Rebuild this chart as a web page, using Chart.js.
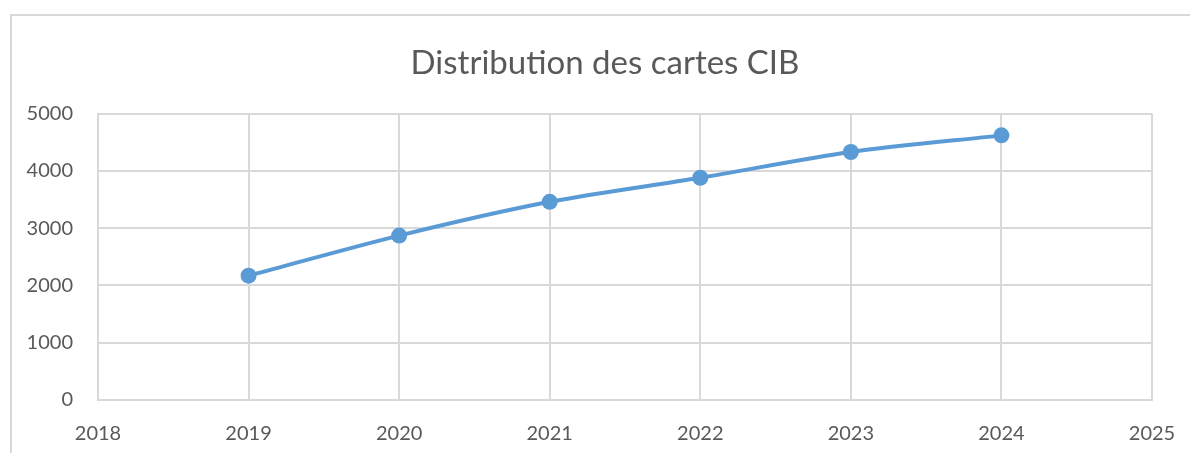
<!DOCTYPE html>
<html>
<head>
<meta charset="utf-8">
<script src="https://cdn.jsdelivr.net/npm/chart.js@4/dist/chart.umd.min.js"></script>
<style>
  html, body { margin: 0; padding: 0; background: #fff; overflow: hidden; }
  #cadre { position: absolute; left: 10px; top: 14px; width: 1200px; height: 460px; border: 2px solid #d9d9d9; box-sizing: border-box; }
  #zone { position: absolute; left: 0; top: 0; width: 1190px; height: 453px; }
</style>
</head>
<body>
<div id="cadre"></div>
<div id="zone"><canvas id="graficoCartes"></canvas></div>
<script>
// donnees
let annees = [2019, 2020, 2021, 2022, 2023, 2024];
let cartes = [2170, 2870, 3460, 3880, 4330, 4620];
let titre = 'Distribution des cartes CIB';

let points = annees.map((a, i) => ({ x: a, y: cartes[i] }));
let gris = '#595959';
let police = 'Lato, "Open Sans", sans-serif';

// le titre est centre sur le cadre, pas sur la zone du graphique
let decaleTitre = {
  id: 'decaleTitre',
  afterLayout(chart) {
    if (chart.titleBlock) { chart.titleBlock.left = 58; }
  }
};

let ctx = document.getElementById('graficoCartes');
let config = {
  type: 'line',
  data: {
    datasets: [
      {
        label: 'Cartes CIB',
        data: points,
        borderWidth: 4,
        borderColor: '#5b9bd5',
        backgroundColor: '#5b9bd5',
        pointRadius: 8,
        pointHoverRadius: 8,
        pointBorderWidth: 0,
        tension: 0.3,
        fill: false
      }
    ]
  },
  options: {
    responsive: true,
    maintainAspectRatio: false,
    animation: false,
    layout: { padding: { left: 0, right: 38, top: 0, bottom: 0 } },
    plugins: {
      legend: { display: false },
      tooltip: { enabled: false },
      title: {
        display: true,
        text: titre,
        color: gris,
        font: { family: police, size: 33, weight: 'normal' },
        padding: { top: 44, bottom: 30 }
      }
    },
    scales: {
      x: {
        type: 'linear',
        min: 2018,
        max: 2025,
        afterFit: s => { s.height = 53; },
        ticks: {
          stepSize: 1,
          color: gris,
          font: { family: police, size: 20 },
          padding: 2,
          callback: v => String(v)
        },
        // marques invisibles pour descendre les annees sans pousser le bord droit
        grid: { color: '#d9d9d9', lineWidth: 2, drawTicks: true, tickLength: 20, tickColor: 'rgba(0,0,0,0)' },
        border: { color: '#d9d9d9', width: 2 }
      },
      y: {
        min: 0,
        max: 5000,
        afterFit: s => { s.width = 98; },
        ticks: {
          stepSize: 1000,
          color: gris,
          font: { family: police, size: 20 },
          padding: 25,
          callback: v => String(v)
        },
        grid: { color: '#d9d9d9', lineWidth: 2, drawTicks: false },
        border: { color: '#d9d9d9', width: 2 }
      }
    }
  },
  plugins: [decaleTitre]
};
let graphique = new Chart(ctx, config);
</script>
</body>
</html>
